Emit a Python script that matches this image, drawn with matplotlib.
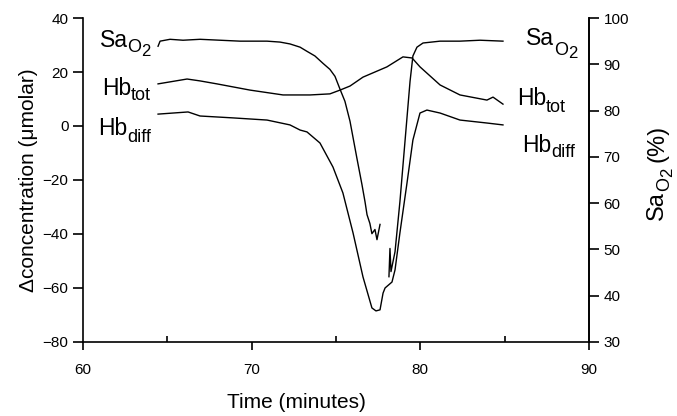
import numpy as np
import matplotlib
matplotlib.use("Agg")
import matplotlib.pyplot as plt
from matplotlib.ticker import MultipleLocator

plt.rcParams['font.family'] = ['Liberation Sans', 'DejaVu Sans']

# ---- data ----
sao2_t = [64.45, 64.57, 65.16, 65.93, 66.94, 68.12, 69.31, 70.91, 71.68, 72.27,
          72.87, 73.28, 73.75, 74.23, 74.64, 74.94, 75.24, 75.53, 75.83, 76.24,
          76.54, 76.72, 76.84, 77.01, 77.13, 77.31, 77.43, 77.61, np.nan,
          78.14, 78.20, 78.26, 78.50, 78.79, 79.09, 79.39, 79.56, 79.80, 80.16,
          81.17, 82.35, 83.54, 84.90]
sao2_v = [93.9, 95.0, 95.4, 95.2, 95.4, 95.2, 95.0, 95.0, 94.8, 94.4,
          93.7, 92.8, 91.8, 90.2, 88.9, 87.4, 84.6, 82.0, 77.7, 69.7,
          64.0, 60.3, 57.5, 55.6, 53.4, 54.3, 52.1, 55.4, np.nan,
          44.1, 50.2, 45.2, 49.5, 60.3, 73.3, 86.3, 91.8, 93.7, 94.6,
          95.0, 95.0, 95.2, 95.0]

hbtot_t = [64.45, 66.17, 66.94, 67.94, 69.90, 71.86, 73.46, 74.64, 75.24, 75.83,
           76.60, 78.02, 78.97, 79.51, 79.98, 81.17, 82.35, 83.95, 84.31, 84.90]
hbtot_v = [15.6, 17.4, 16.7, 15.6, 13.3, 11.5, 11.5, 11.9, 13.3, 14.8,
           18.1, 21.9, 25.6, 25.2, 21.9, 15.2, 11.5, 9.6, 10.7, 8.1]

hbdiff_t = [64.45, 66.23, 66.94, 68.89, 70.91, 72.27, 72.87, 73.28, 74.05, 74.82,
            75.41, 76.01, 76.60, 77.13, 77.37, 77.61, 77.79, 77.91, 78.32, 78.50,
            78.79, 79.21, 79.56, 79.98, 80.39, 81.17, 82.35, 83.95, 84.90]
hbdiff_v = [4.4, 5.2, 3.7, 3.0, 2.2, 0.4, -1.5, -2.2, -6.3, -15.2,
            -24.8, -39.6, -55.9, -67.4, -68.5, -68.1, -61.9, -60.0, -57.8, -53.3,
            -39.6, -21.1, -5.2, 4.8, 5.9, 4.8, 2.2, 1.1, 0.4]

xticks = [60, 70, 80, 90]
left_ticks = [-80, -60, -40, -20, 0, 20, 40]
right_ticks = [30, 40, 50, 60, 70, 80, 90, 100]

W, H = 677, 416
fig = plt.figure(figsize=(W / 100, H / 100), dpi=100)
ax = fig.add_axes([0.1226, 0.178, 0.870 - 0.1226, 0.9567 - 0.178])
ax2 = ax.twinx()

ax.plot(hbtot_t, hbtot_v, color='black', lw=1.0)
ax.plot(hbdiff_t, hbdiff_v, color='black', lw=1.0)
ax2.plot(sao2_t, sao2_v, color='black', lw=1.0)

ax.set_xlim(60, 90)
ax.set_ylim(-80, 40)
ax2.set_ylim(30, 100)
ax.set_xticks(xticks)
ax.set_yticks(left_ticks)
ax2.set_yticks(right_ticks)
ax.xaxis.set_minor_locator(MultipleLocator(5))

for a in (ax, ax2):
    a.spines['top'].set_visible(False)
    for s in a.spines.values():
        s.set_linewidth(1.2)
ax2.spines['left'].set_visible(False)
ax2.spines['bottom'].set_visible(False)

ax.tick_params(axis='y', which='major', direction='out', length=7, width=1.2, labelsize=11)
ax.tick_params(axis='x', which='major', direction='out', length=6, width=1.2, labelsize=11, pad=9)
ax.tick_params(axis='x', which='minor', direction='in', length=4, width=1.2)
ax2.tick_params(axis='y', which='major', direction='out', length=7, width=1.2, labelsize=11)

ax.set_ylabel('\u0394concentration (\u03bcmolar)', fontsize=15, labelpad=3)
fig.text(296 / W, 1 - 408 / H, 'Time (minutes)', fontsize=15, ha='center', va='baseline')

renderer = fig.canvas.get_renderer()


def pieces(px, py, parts, align='left', rotation=0):
    """parts: (text, fontsize, drop_px, gap_before_px); px/py in image pixels."""
    objs, widths = [], []
    for s, fs, drop, gap in parts:
        t = fig.text(0, 0, s, fontsize=fs, ha='left', va='baseline',
                     rotation=rotation, rotation_mode='anchor')
        bb = t.get_window_extent(renderer)
        widths.append(bb.height if rotation == 90 else bb.width)
        objs.append(t)
    total = sum(w + p[3] for w, p in zip(widths, parts))
    adv = -total if align == 'right' else 0.0
    for t, w, (s, fs, drop, gap) in zip(objs, widths, parts):
        adv += gap
        if rotation == 90:
            x, y = px + drop, py - adv
        else:
            x, y = px + adv, py + drop
        t.set_position((x / W, 1 - y / H))
        adv += w


M, S = 16.5, 13
# left labels (right-aligned)
pieces(151, 47, [('Sa', M, 0, 0), ('O', S, 5, 0), ('2', 12, 9, 0)], align='right')
pieces(151, 95, [('Hb', M, 0, 0), ('tot', S, 5, 0)], align='right')
pieces(151, 135, [('Hb', M, 0, 0), ('diff', S, 7, 0)], align='right')
# right labels (left-aligned)
pieces(526, 45, [('Sa', M, 0, 0), ('O', S, 10, 0), ('2', 12, 13, 0)])
pieces(517, 105, [('Hb', M, 0, 0), ('tot', S, 7, 0)])
pieces(522, 152, [('Hb', M, 0, 0), ('diff', S, 5, 0)])
# right axis label (rotated)
pieces(663, 220, [('Sa', 17, 0, 0), ('O', 13, 6, 0), ('2', 12, 9, 0), ('(%)', 17, 0, 6)],
       rotation=90)

fig.savefig('out.png', dpi=100)
